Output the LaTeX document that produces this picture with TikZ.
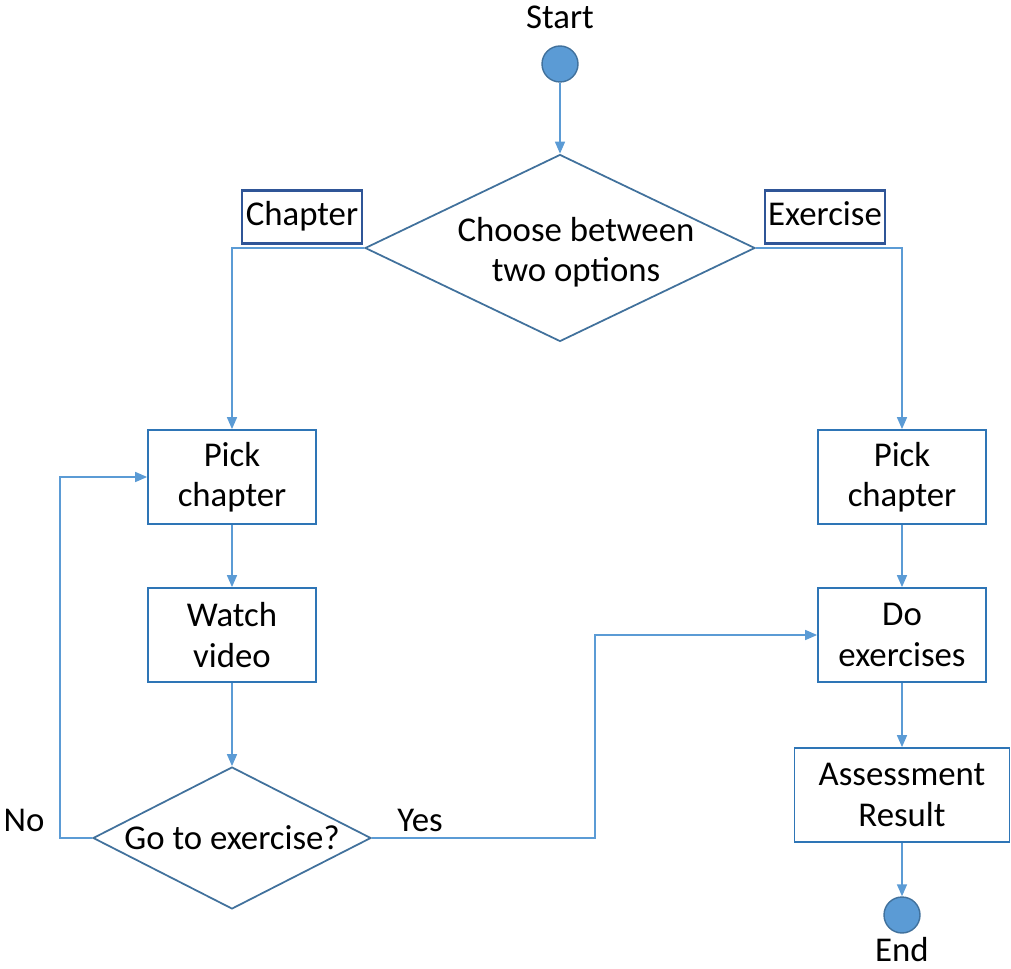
\documentclass[tikz,border=0pt]{standalone}
\usepackage{fontspec}
\setmainfont{Carlito}
\usetikzlibrary{shapes.geometric,arrows.meta}
\definecolor{lineblue}{HTML}{5B9BD5}
\definecolor{boxblue}{HTML}{2E75B6}
\definecolor{darkblue}{HTML}{41719C}
\definecolor{tagblue}{HTML}{2F5597}
\begin{document}
\begin{tikzpicture}[x=0.02cm,y=-0.02cm,
  font=\fontsize{19.8}{23}\selectfont,
  every node/.style={text=black},
  flow/.style={draw=lineblue,line width=0.9pt,-{Triangle[length=2.4mm,width=2mm]}},
  stepbox/.style={draw=boxblue,line width=1pt,minimum width=3.36cm,minimum height=1.88cm,align=center},
  choice/.style={draw=darkblue,line width=1pt,diamond,inner sep=0pt},
  tag/.style={draw=tagblue,line width=1.4pt,minimum width=2.4cm,minimum height=1.06cm,inner sep=1pt,text height=1em,text depth=0pt},
  dot/.style={circle,fill=lineblue,draw=darkblue,line width=0.8pt,minimum size=0.72cm,inner sep=0pt}]
\useasboundingbox (0,0) rectangle (1011,969);
% start and end
\node at (560,17) (starttxt) {Start};
\node[dot] at (560,64) (start) {};
\node[dot] at (902,915) (end) {};
\node[inner sep=1pt] at (902,950) (endtxt) {End};
% decisions
\node[choice,minimum width=7.8cm,minimum height=3.74cm,aspect=2.09] at (560,248) (choose) {};
\node[align=center] at (576,252) (choosetxt) {Choose between\\two options};
\node[choice,minimum width=5.56cm,minimum height=2.84cm,aspect=1.96] at (232,838) (goex) {Go to exercise?};
% tags
\node[tag] at (302,217) (chap) {Chapter};
\node[tag] at (825,217) (exer) {Exercise};
% steps
\node[stepbox] at (232,477) (pickl) {Pick\\chapter};
\node[stepbox] at (232,635) (watch) {Watch\\video};
\node[stepbox] at (902,477) (pickr) {Pick\\chapter};
\node[stepbox] at (902,635) (doex) {Do\\exercises};
\node[stepbox,minimum width=4.3cm] at (902,795) (result) {Assessment\\Result};
% branch labels
\node at (24,820) (no) {No};
\node at (420,820) (yes) {Yes};
% connectors
\draw[flow] (start) -- (choose.north);
\draw[flow] (choose.west) -| (pickl.north);
\draw[flow] (choose.east) -| (pickr.north);
\draw[flow] (pickl) -- (watch);
\draw[flow] (watch) -- (goex.north);
\draw[flow] (goex.west) -- (60,838) |- (pickl.west);
\draw[flow] (goex.east) -- (595,838) |- (doex.west);
\draw[flow] (pickr) -- (doex);
\draw[flow] (doex) -- (result);
\draw[flow] (result) -- (end);
\end{tikzpicture}
\end{document}
